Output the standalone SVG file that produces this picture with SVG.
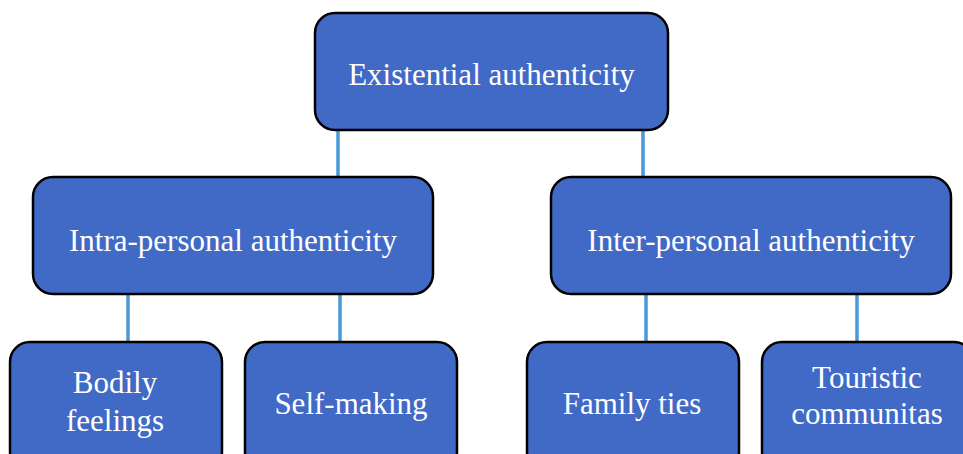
<svg xmlns="http://www.w3.org/2000/svg" width="963" height="454" viewBox="0 0 963 454">
  <style>
    .box { fill: #4169c6; stroke: #000; stroke-width: 2.5; }
    .lbl { font-family: "Liberation Serif", "Times New Roman", serif; font-size: 31px; fill: #fff; text-anchor: middle; }
    .link { stroke: #4a9ad8; stroke-width: 3.5; fill: none; }
  </style>
  <rect width="963" height="454" fill="#fff"/>
  <g id="connectors">
    <line class="link" x1="338" y1="130" x2="338" y2="177"/>
    <line class="link" x1="643" y1="130" x2="643" y2="177"/>
    <line class="link" x1="128" y1="294" x2="128" y2="342"/>
    <line class="link" x1="340" y1="294" x2="340" y2="342"/>
    <line class="link" x1="646" y1="294" x2="646" y2="342"/>
    <line class="link" x1="857" y1="294" x2="857" y2="342"/>
  </g>
  <g id="existential">
    <rect class="box" x="315" y="13" width="353" height="117" rx="20"/>
    <text class="lbl" x="491.5" y="85">Existential authenticity</text>
  </g>
  <g id="intra">
    <rect class="box" x="33" y="177" width="400" height="117" rx="20"/>
    <text class="lbl" x="233" y="251">Intra-personal authenticity</text>
  </g>
  <g id="inter">
    <rect class="box" x="551" y="177" width="400" height="117" rx="20"/>
    <text class="lbl" x="751" y="251">Inter-personal authenticity</text>
  </g>
  <g id="bodily">
    <rect class="box" x="10" y="342" width="212" height="130" rx="20"/>
    <text class="lbl" x="115" y="393">Bodily</text>
    <text class="lbl" x="115" y="431">feelings</text>
  </g>
  <g id="selfmaking">
    <rect class="box" x="245" y="342" width="212" height="130" rx="20"/>
    <text class="lbl" x="351" y="414">Self-making</text>
  </g>
  <g id="family">
    <rect class="box" x="527" y="342" width="212" height="130" rx="20"/>
    <text class="lbl" x="632" y="414">Family ties</text>
  </g>
  <g id="touristic">
    <rect class="box" x="762" y="342" width="212" height="130" rx="20"/>
    <text class="lbl" x="867" y="388">Touristic</text>
    <text class="lbl" x="867" y="424">communitas</text>
  </g>
</svg>
